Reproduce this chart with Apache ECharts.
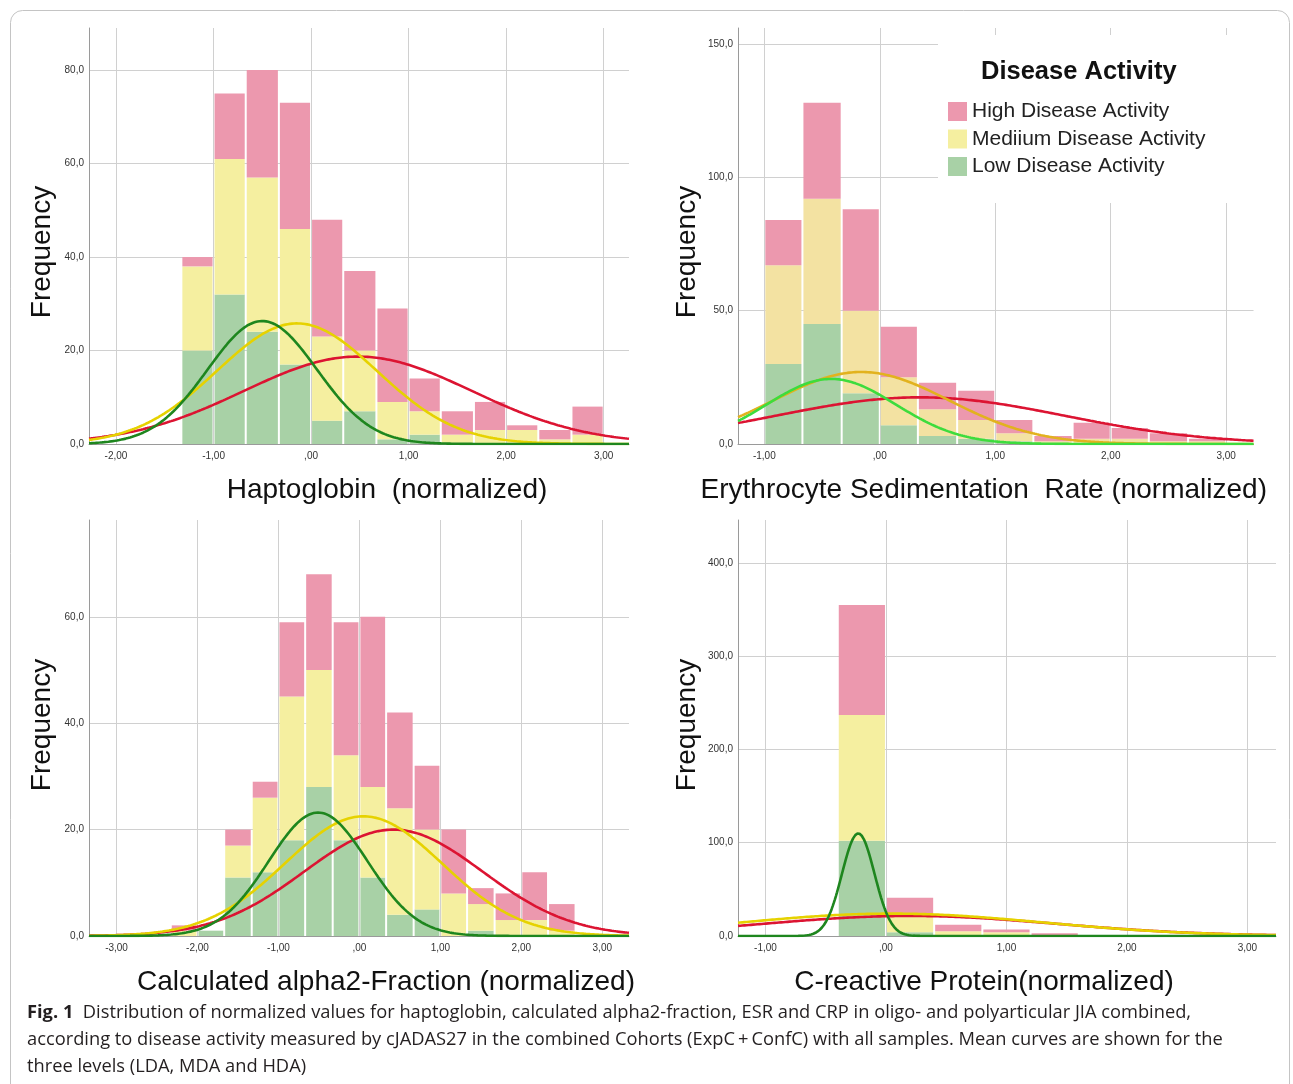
<!DOCTYPE html>
<html>
<head>
<meta charset="utf-8">
<script src="https://cdn.jsdelivr.net/npm/echarts@6/dist/echarts.min.js"></script>
<style>
html,body{margin:0;padding:0;background:#fff;}
#chart{width:1293px;height:1084px;}
</style>
</head>
<body>
<div id="chart"></div>
<script>
// ---------------- DATA ----------------
const classNames = ['High Disease Activity', 'Mediium Disease Activity', 'Low Disease Activity'];

// Panel A: Haptoglobin (bin edges, counts per disease-activity class)
const hapEdges = [-1.33, -1.00, -0.67, -0.33, 0.00, 0.33, 0.67, 1.00, 1.33, 1.67, 2.00, 2.33, 2.67, 3.00];
const hapLow  = [20, 32, 24, 17,  5,  7,  1, 2, 0, 0, 0, 0, 0];
const hapMed  = [18, 29, 33, 29, 18, 13,  8, 5, 2, 3, 3, 1, 2];
const hapHigh = [ 2, 14, 23, 27, 25, 17, 20, 7, 5, 6, 1, 2, 6];
const hapXTicks = [-2, -1, 0, 1, 2, 3];
const hapXLabels = ['-2,00', '-1,00', ',00', '1,00', '2,00', '3,00'];
const hapYTicks = [0, 20, 40, 60, 80];
const hapYLabels = ['0,0', '20,0', '40,0', '60,0', '80,0'];
// normal-curve overlays [High, Medium, Low]: mean, sd, peak height
const hapCurveMean = [0.48, -0.145, -0.50];
const hapCurveSd   = [1.17, 0.82, 0.56];
const hapCurvePeak = [18.7, 25.8, 26.3];

// Panel B: Erythrocyte Sedimentation Rate
const esrEdges = [-1.00, -0.67, -0.33, 0.00, 0.33, 0.67, 1.00, 1.33, 1.67, 2.00, 2.33, 2.67, 3.00];
const esrLow  = [30, 45, 19,  7,  3,  2, 1, 0, 0, 0, 0, 0];
const esrMed  = [37, 47, 31, 18, 10,  7, 3, 1, 2, 2, 1, 1];
const esrHigh = [17, 36, 38, 19, 10, 11, 5, 2, 6, 4, 3, 1];
const esrXTicks = [-1, 0, 1, 2, 3];
const esrXLabels = ['-1,00', ',00', '1,00', '2,00', '3,00'];
const esrYTicks = [0, 50, 100, 150];
const esrYLabels = ['0,0', '50,0', '100,0', '150,0'];
const esrCurveMean = [0.35, -0.16, -0.42];
const esrCurveSd   = [1.25, 0.76, 0.56];
const esrCurvePeak = [17.5, 27.0, 24.4];

// Panel C: Calculated alpha2-Fraction
const a2Edges = [-2.33, -2.00, -1.67, -1.33, -1.00, -0.67, -0.33, 0.00, 0.33, 0.67, 1.00, 1.33, 1.67, 2.00, 2.33, 2.67];
const a2Low  = [0, 1, 11, 12, 18, 28, 18, 11,  4,  5,  0, 1, 0, 0, 0];
const a2Med  = [1, 0,  6, 14, 27, 22, 16, 17, 20, 15,  8, 5, 3, 3, 1];
const a2High = [1, 0,  3,  3, 14, 18, 25, 32, 18, 12, 12, 3, 5, 9, 5];
const a2XTicks = [-3, -2, -1, 0, 1, 2, 3];
const a2XLabels = ['-3,00', '-2,00', '-1,00', ',00', '1,00', '2,00', '3,00'];
const a2YTicks = [0, 20, 40, 60];
const a2YLabels = ['0,0', '20,0', '40,0', '60,0'];
const a2CurveMean = [0.42, 0.05, -0.51];
const a2CurveSd   = [1.10, 0.97, 0.61];
const a2CurvePeak = [20.0, 22.5, 23.2];

// Panel D: C-reactive Protein
const crpEdges = [-0.40, 0.00, 0.40, 0.80, 1.20, 1.60];
const crpLow  = [102,  4, 0, 0, 0];
const crpMed  = [135, 18, 5, 4, 1];
const crpHigh = [118, 19, 7, 3, 2];
const crpXTicks = [-1, 0, 1, 2, 3];
const crpXLabels = ['-1,00', ',00', '1,00', '2,00', '3,00'];
const crpYTicks = [0, 100, 200, 300, 400];
const crpYLabels = ['0,0', '100,0', '200,0', '300,0', '400,0'];
const crpCurveMean = [0.20, 0.05, -0.23];
const crpCurveSd   = [1.22, 1.25, 0.135];
const crpCurvePeak = [21.5, 24.0, 110.0];

// ---------------- STYLE / LAYOUT ----------------
const FONT = '"Liberation Sans", Arial, sans-serif';
const TICKFONT = '"Liberation Sans Narrow", "Liberation Sans", Arial, sans-serif';
const barColors = ['#ec98ae', '#f5efa0', '#a8d1a6'];
const lineColors = ['#dc1432', '#e6d200', '#1e861e'];

const panels = [
  { edges: hapEdges, counts: [hapHigh, hapMed, hapLow], xTicks: hapXTicks, xLabels: hapXLabels,
    yTicks: hapYTicks, yLabels: hapYLabels, mean: hapCurveMean, sd: hapCurveSd, peak: hapCurvePeak,
    grid: {left: 89, top: 28, width: 540, height: 416}, xMin: -2.277, xMax: 3.26, yMax: 89,
    xName: 'Haptoglobin  (normalized)', xShift: 28, yShift: 16,
    barColors: barColors, lineColors: lineColors, yGap: 33 },
  { edges: esrEdges, counts: [esrHigh, esrMed, esrLow], xTicks: esrXTicks, xLabels: esrXLabels,
    yTicks: esrYTicks, yLabels: esrYLabels, mean: esrCurveMean, sd: esrCurveSd, peak: esrCurvePeak,
    grid: {left: 738, top: 28, width: 538, height: 416}, xMin: -1.228, xMax: 3.237, yMax: 156,
    xName: 'Erythrocyte Sedimentation  Rate (normalized)', xShift: -12, yShift: 16,
    barColors: ['#ec98ae', '#f3e2a2', '#a8d1a6'], lineColors: ['#dc1432', '#e2b21e', '#3ddc3d'], yGap: 37 },
  { edges: a2Edges, counts: [a2High, a2Med, a2Low], xTicks: a2XTicks, xLabels: a2XLabels,
    yTicks: a2YTicks, yLabels: a2YLabels, mean: a2CurveMean, sd: a2CurveSd, peak: a2CurvePeak,
    grid: {left: 89, top: 520, width: 540, height: 416}, xMin: -3.34, xMax: 3.33, yMax: 78.2,
    xName: 'Calculated alpha2-Fraction (normalized)', xShift: 27, yShift: -3,
    barColors: barColors, lineColors: lineColors, yGap: 33 },
  { edges: crpEdges, counts: [crpHigh, crpMed, crpLow], xTicks: crpXTicks, xLabels: crpXLabels,
    yTicks: crpYTicks, yLabels: crpYLabels, mean: crpCurveMean, sd: crpCurveSd, peak: crpCurvePeak,
    grid: {left: 738, top: 520, width: 538, height: 416}, xMin: -1.228, xMax: 3.237, yMax: 446,
    xName: 'C-reactive Protein(normalized)', xShift: -23, yShift: -3,
    barColors: barColors, lineColors: lineColors, yGap: 37 }
];

function labelFor(ticks, labels) {
  return function (v) {
    for (let i = 0; i < ticks.length; i++) {
      if (Math.abs(ticks[i] - v) < 1e-6) return labels[i];
    }
    return '';
  };
}

// SPSS-style normal curve overlay from parameters
function curvePoints(mean, sd, peak, xmin, xmax) {
  const pts = [];
  const n = 500;
  for (let i = 0; i <= n; i++) {
    const x = xmin + (xmax - xmin) * i / n;
    pts.push([x, peak * Math.exp(-0.5 * Math.pow((x - mean) / sd, 2))]);
  }
  return pts;
}

function paddingForShift(shift) {
  return shift >= 0 ? [0, 0, 0, 2 * shift] : [0, -2 * shift, 0, 0];
}

const grids = [], xAxes = [], yAxes = [], series = [];

panels.forEach(function (p, pi) {
  grids.push(Object.assign({containLabel: false}, p.grid));
  xAxes.push({
    type: 'value', gridIndex: pi, min: p.xMin, max: p.xMax,
    axisLine: {show: true, onZero: false, lineStyle: {color: '#9a9a9a', width: 1}},
    axisTick: {show: false, customValues: p.xTicks},
    axisLabel: {customValues: p.xTicks, formatter: labelFor(p.xTicks, p.xLabels),
      fontSize: 10, color: '#333', margin: 7, fontFamily: TICKFONT},
    splitLine: {show: true, lineStyle: {color: '#d0d0d0', width: 1}},
    name: p.xName, nameLocation: 'middle', nameGap: 31,
    nameTextStyle: {fontSize: 28, fontFamily: FONT, color: '#111', lineHeight: 30,
      padding: paddingForShift(p.xShift)}
  });
  yAxes.push({
    type: 'value', gridIndex: pi, min: 0, max: p.yMax,
    axisLine: {show: true, onZero: false, lineStyle: {color: '#9a9a9a', width: 1}},
    axisTick: {show: false, customValues: p.yTicks},
    axisLabel: {customValues: p.yTicks, formatter: labelFor(p.yTicks, p.yLabels),
      fontSize: 10, color: '#333', margin: 5, fontFamily: TICKFONT},
    splitLine: {show: true, lineStyle: {color: '#d0d0d0', width: 1}},
    name: 'Frequency', nameLocation: 'middle', nameGap: p.yGap, nameRotate: 90,
    nameTextStyle: {fontSize: 28, fontFamily: FONT, color: '#111', lineHeight: 28,
      padding: p.yShift >= 0 ? [0, 2 * p.yShift, 0, 0] : [0, 0, 0, -2 * p.yShift]}
  });

  // stacked histogram: Low at bottom, Medium, High on top
  const nBins = p.edges.length - 1;
  const base = new Array(nBins).fill(0);
  const order = [2, 1, 0]; // Low, Medium, High
  order.forEach(function (ci) {
    const data = [];
    for (let b = 0; b < nBins; b++) {
      const v = p.counts[ci][b];
      data.push([p.edges[b], p.edges[b + 1], base[b], base[b] + v]);
      base[b] += v;
    }
    const fill = p.barColors[ci];
    series.push({
      type: 'custom', name: classNames[ci], xAxisIndex: pi, yAxisIndex: pi,
      itemStyle: {color: fill}, clip: true, z: 2,
      encode: {x: [0, 1], y: [2, 3]},
      data: data,
      renderItem: function (params, api) {
        if (api.value(3) - api.value(2) <= 0) return null;
        const a = api.coord([api.value(0), api.value(3)]);
        const b = api.coord([api.value(1), api.value(2)]);
        return {
          type: 'rect',
          shape: {x: a[0] + 1, y: a[1], width: b[0] - a[0] - 2, height: b[1] - a[1]},
          style: {fill: fill}
        };
      }
    });
  });

  // normal curves: High (red), Medium (yellow), Low (green, drawn last)
  [0, 1, 2].forEach(function (ci) {
    series.push({
      type: 'line', name: classNames[ci] + ' curve', xAxisIndex: pi, yAxisIndex: pi,
      data: curvePoints(p.mean[ci], p.sd[ci], p.peak[ci], p.xMin, p.xMax),
      showSymbol: false, symbol: 'none', smooth: false, z: 3 + ci,
      lineStyle: {color: p.lineColors[ci], width: 2.6},
      itemStyle: {color: p.lineColors[ci]},
      silent: true
    });
  });
});

const captionLines = [
  '{b|Fig. 1}  Distribution of normalized values for haptoglobin, calculated alpha2-fraction, ESR and CRP in oligo- and polyarticular JIA combined,',
  'according to disease activity measured by cJADAS27 in the combined Cohorts (ExpC\u2009+\u2009ConfC) with all samples. Mean curves are shown for the',
  'three levels (LDA, MDA and HDA)'
];
const captionY = [1013, 1040, 1067];
const CAPFONT = '"Open Sans", "Noto Sans", sans-serif';

const graphics = [
  {type: 'rect', shape: {x: 10.5, y: 10.5, width: 1279, height: 1110, r: 12},
   style: {fill: 'none', stroke: '#c4c4c4', lineWidth: 1}, z: 1, silent: true},
  {type: 'rect', shape: {x: 938, y: 35, width: 345, height: 168},
   style: {fill: '#ffffff'}, z: 50, silent: true}
];
captionLines.forEach(function (t, i) {
  graphics.push({
    type: 'text', x: 27, y: captionY[i], z: 60, silent: true,
    style: {
      text: t, fontSize: 18.3, fontFamily: CAPFONT, fill: '#231f20',
      verticalAlign: 'middle', textVerticalAlign: 'middle',
      rich: {b: {fontWeight: 'bold', fontSize: 18.3, fontFamily: CAPFONT, fill: '#231f20'}}
    }
  });
});

const option = {
  backgroundColor: '#ffffff',
  animation: false,
  title: {
    text: 'Disease Activity', left: 981, top: 59, padding: 0, z: 100,
    textStyle: {fontSize: 25.5, fontWeight: 'bold', fontFamily: FONT, color: '#111'}
  },
  legend: {
    data: classNames, orient: 'vertical', left: 948, top: 101, padding: 0,
    itemWidth: 19, itemHeight: 19, itemGap: 6.5, icon: 'rect', selectedMode: false, z: 100,
    textStyle: {fontSize: 21, fontFamily: FONT, color: '#222', lineHeight: 20}
  },
  grid: grids,
  xAxis: xAxes,
  yAxis: yAxes,
  series: series,
  graphic: graphics
};

const chart = echarts.init(document.getElementById('chart'), null, {renderer: 'canvas'});
chart.setOption(option);
</script>
</body>
</html>
